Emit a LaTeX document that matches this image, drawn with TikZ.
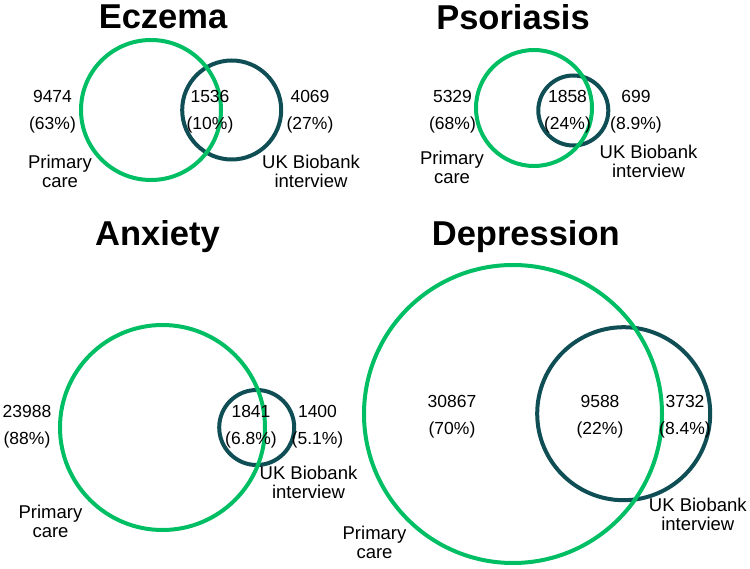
\documentclass[tikz,border=0pt]{standalone}
\usepackage{fontspec}
\setmainfont{Liberation Sans}
\usepackage{tikz}
\usetikzlibrary{positioning}
\definecolor{pcgreen}{RGB}{0,190,100}
\definecolor{ukbteal}{RGB}{14,78,84}

\begin{document}
\begin{tikzpicture}[x=1pt, y=-1pt,
  every node/.style={inner sep=0pt},
  ttl/.style ={font=\fontsize{34.5}{38}\selectfont\bfseries},
  cnt/.style ={align=center, font=\fontsize{17.5}{27}\selectfont},
  lbl/.style ={align=center, font=\fontsize{18.5}{19}\selectfont},
  pc/.style  ={draw=pcgreen, circle, line width=4pt, minimum size=#1},
  ukb/.style ={draw=ukbteal, circle, line width=4pt, minimum size=#1}]

\useasboundingbox (0,0) rectangle (750,569);

%% ── Eczema ───────────────────────────────────────────────────────
\node[ttl] (ecztitle) at (163, 17) {Eczema};
\node[ukb=99pt]  (eczukb) at (231.7, 110) {};
\node[pc=140pt]  (eczpc)  at (151, 110) {};
\node[cnt] (eczonly) at (52.5, 111.5) {9474\\(63\%)};
\node[cnt] (eczboth) at (210, 111.5)  {1536\\(10\%)};
\node[cnt] (eczint)  at (310, 111.5)  {4069\\(27\%)};
\node[lbl] (eczpclbl)  at (60, 171)    {Primary\\care};
\node[lbl] (eczukblbl) at (311, 171.5) {UK Biobank\\interview};

%% ── Psoriasis ────────────────────────────────────────────────────
\node[ttl] (psotitle) at (513, 17) {Psoriasis};
\node[ukb=70pt]  (psoukb) at (573.3, 110.5) {};
\node[pc=116pt]  (psopc)  at (534, 108) {};
\node[cnt] (psoonly) at (452.5, 112) {5329\\(68\%)};
\node[cnt] (psoboth) at (567.5, 112) {1858\\(24\%)};
\node[cnt] (psoint)  at (636, 112)   {699\\(8.9\%)};
\node[lbl] (psopclbl)  at (452, 167.5) {Primary\\care};
\node[lbl] (psoukblbl) at (648.5, 161) {UK Biobank\\interview};

%% ── Anxiety ──────────────────────────────────────────────────────
\node[ttl] (anxtitle) at (157.5, 236.7) {Anxiety};
\node[ukb=75pt]  (anxukb) at (256.7, 427.5) {};
\node[pc=205pt]  (anxpc)  at (162.5, 427.5) {};
\node[cnt] (anxonly) at (27, 427)    {23988\\(88\%)};
\node[cnt] (anxboth) at (251, 427)   {1841\\(6.8\%)};
\node[cnt] (anxint)  at (317.5, 427) {1400\\(5.1\%)};
\node[lbl] (anxpclbl)  at (50.5, 521.5)  {Primary\\care};
\node[lbl] (anxukblbl) at (308.5, 482.5) {UK Biobank\\interview};

%% ── Depression ───────────────────────────────────────────────────
\node[ttl] (deptitle) at (525.8, 236.7) {Depression};
\node[ukb=173pt] (depukb) at (623.7, 413.7) {};
\node[pc=298pt]  (deppc)  at (513, 414) {};
\node[cnt] (deponly) at (452, 416.5) {30867\\(70\%)};
\node[cnt] (depboth) at (600, 416.5) {9588\\(22\%)};
\node[cnt] (depint)  at (685, 416.5) {3732\\(8.4\%)};
\node[lbl] (deppclbl)  at (374.5, 542.5) {Primary\\care};
\node[lbl] (depukblbl) at (697.8, 514)   {UK Biobank\\interview};
\end{tikzpicture}
\end{document}
